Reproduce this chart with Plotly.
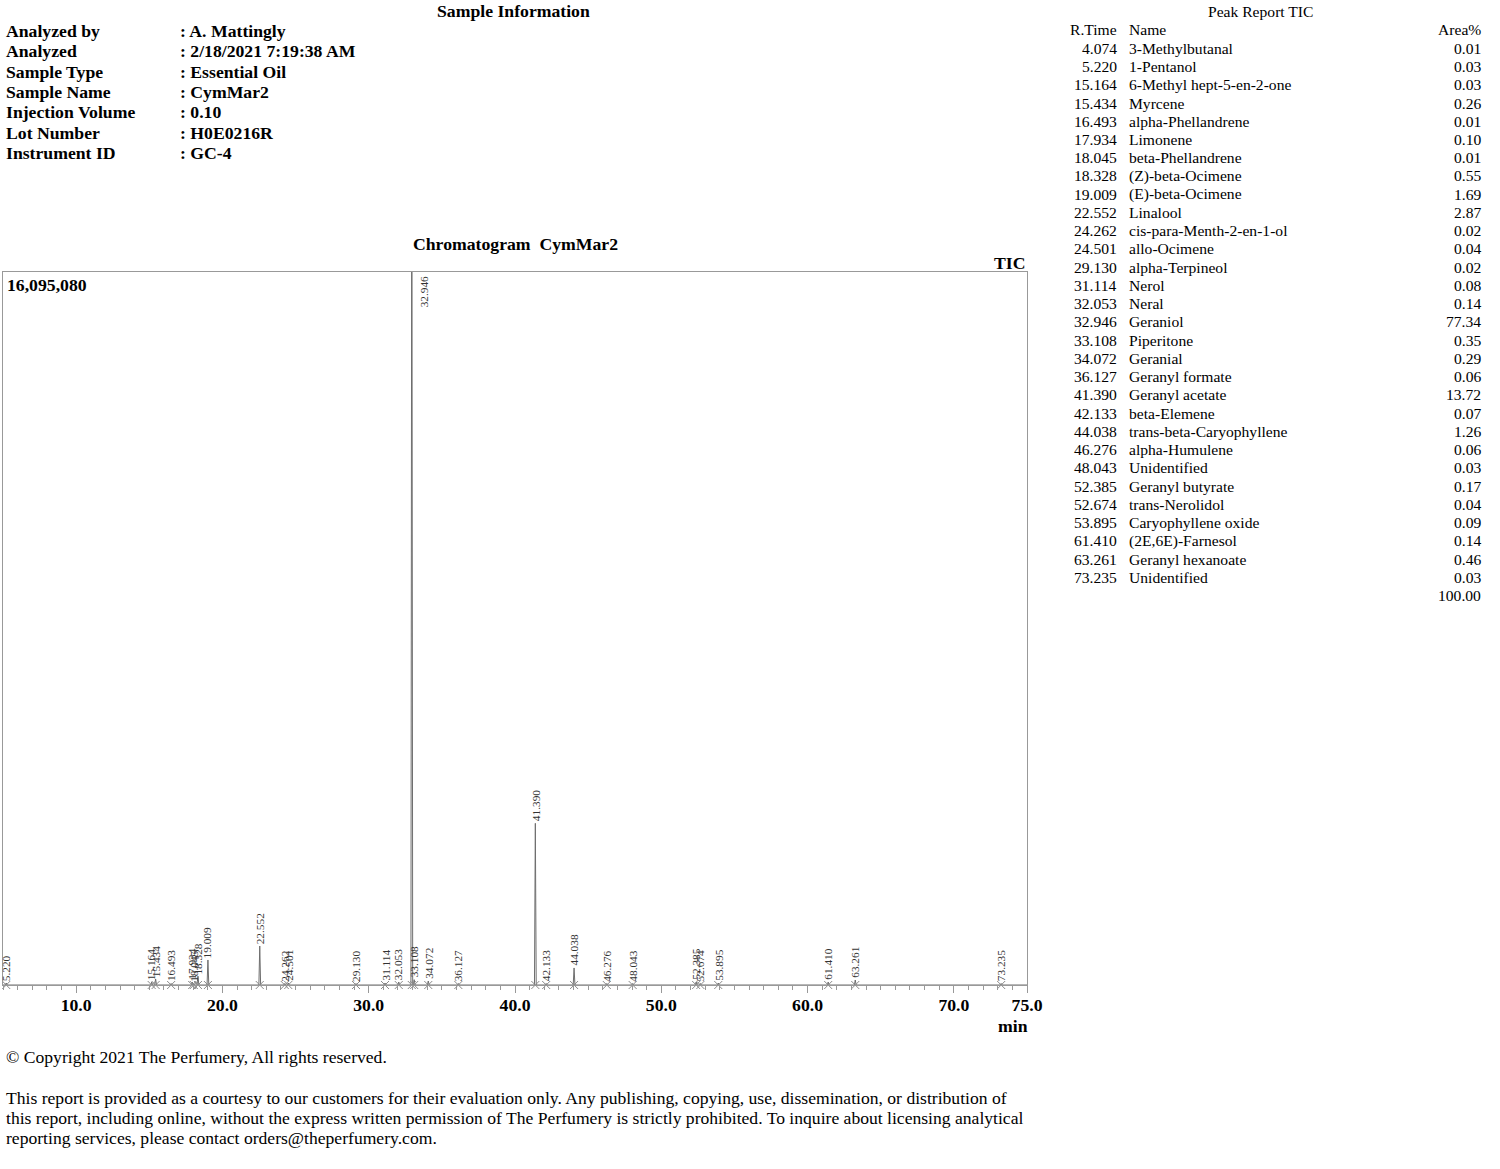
import plotly.graph_objects as go

# ---------------- data ----------------
info_labels = ["Analyzed by", "Analyzed", "Sample Type", "Sample Name",
               "Injection Volume", "Lot Number", "Instrument ID"]
info_values = ["A. Mattingly", "2/18/2021 7:19:38 AM", "Essential Oil", "CymMar2",
               "0.10", "H0E0216R", "GC-4"]

report_rt = ["4.074", "5.220", "15.164", "15.434", "16.493", "17.934", "18.045", "18.328",
             "19.009", "22.552", "24.262", "24.501", "29.130", "31.114", "32.053", "32.946",
             "33.108", "34.072", "36.127", "41.390", "42.133", "44.038", "46.276", "48.043",
             "52.385", "52.674", "53.895", "61.410", "63.261", "73.235"]
report_name = ["3-Methylbutanal", "1-Pentanol", "6-Methyl hept-5-en-2-one", "Myrcene",
               "alpha-Phellandrene", "Limonene", "beta-Phellandrene", "(Z)-beta-Ocimene",
               "(E)-beta-Ocimene", "Linalool", "cis-para-Menth-2-en-1-ol", "allo-Ocimene",
               "alpha-Terpineol", "Nerol", "Neral", "Geraniol", "Piperitone", "Geranial",
               "Geranyl formate", "Geranyl acetate", "beta-Elemene", "trans-beta-Caryophyllene",
               "alpha-Humulene", "Unidentified", "Geranyl butyrate", "trans-Nerolidol",
               "Caryophyllene oxide", "(2E,6E)-Farnesol", "Geranyl hexanoate", "Unidentified"]
report_area = ["0.01", "0.03", "0.03", "0.26", "0.01", "0.10", "0.01", "0.55", "1.69", "2.87",
               "0.02", "0.04", "0.02", "0.08", "0.14", "77.34", "0.35", "0.29", "0.06", "13.72",
               "0.07", "1.26", "0.06", "0.03", "0.17", "0.04", "0.09", "0.14", "0.46", "0.03"]
report_total = "100.00"

# peaks visible in the chromatogram window (retention time, min ; height, counts)
peak_rt = [5.220, 15.164, 15.434, 16.493, 17.934, 18.045, 18.328, 19.009, 22.552, 24.262,
           24.501, 29.130, 31.114, 32.053, 32.946, 33.108, 34.072, 36.127, 41.390, 42.133,
           44.038, 46.276, 48.043, 52.385, 52.674, 53.895, 61.410, 63.261, 73.235]
peak_height = [45000, 68000, 135000, 34000, 68000, 34000, 200000, 565000, 880000, 34000,
               45000, 34000, 45000, 68000, 20500000, 120000, 90000, 34000, 3650000, 34000,
               385000, 34000, 34000, 68000, 34000, 45000, 68000, 113000, 34000]
y_max = 16095080
x_start, x_end = 5.0, 75.0
x_tickvals = [10, 20, 30, 40, 50, 60, 70, 75]
x_ticktext = ["10.0", "20.0", "30.0", "40.0", "50.0", "60.0", "70.0", "75.0"]

# ---------------- layout helpers ----------------
W, H = 1500, 1169
PL, PR, PT, PB = 3, 1027, 272, 985
SERIF = "Liberation Serif, Times New Roman, serif"


def px(xp):
    return (xp - PL) / (PR - PL)


def py(yp):
    return (PB - yp) / (PB - PT)


# chromatogram trace built from the peak table
half_w = 0.06
xs, ys = [x_start], [0]
for t, h in zip(peak_rt, peak_height):
    xs += [t - half_w, t, t + half_w]
    ys += [0, h, 0]
xs.append(x_end)
ys.append(0)

fig = go.Figure()
fig.add_trace(go.Scatter(x=xs, y=ys, mode="lines", line=dict(color="#6e6e6e", width=1),
                         hoverinfo="skip", showlegend=False))
fig.add_trace(go.Scatter(x=peak_rt, y=[0] * len(peak_rt), mode="markers",
                         marker=dict(symbol="x-thin-open", size=8, color="#8c8c8c",
                                     line=dict(color="#8c8c8c", width=1)),
                         hoverinfo="skip", showlegend=False, cliponaxis=False))

ann = []
LF = dict(family=SERIF, size=11.3, color="#333333")
# peak labels
for t, h in zip(peak_rt, peak_height):
    if h > y_max:
        ann.append(dict(x=t, y=1, xref="x", yref="paper", text=f"{t:.3f}", textangle=-90,
                        showarrow=False, xanchor="center", yanchor="top", xshift=12, yshift=-2,
                        font=LF))
    else:
        ann.append(dict(x=t, y=h, xref="x", yref="y", text=f"{t:.3f}", textangle=-90,
                        showarrow=False, xanchor="center", yanchor="bottom", yshift=0,
                        font=LF))

BF = dict(family=SERIF, size=17.7, color="black")
# chart titles
ann.append(dict(x=px(515), y=py(244), xref="paper", yref="paper", showarrow=False,
                text="<b>Chromatogram\u00a0 CymMar2</b>", xanchor="center", yanchor="middle",
                font=BF))
ann.append(dict(x=px(1027), y=py(263), xref="paper", yref="paper", showarrow=False,
                text="<b>TIC</b>", xanchor="right", yanchor="middle", font=BF))
ann.append(dict(x=px(5), y=py(285), xref="paper", yref="paper", showarrow=False,
                text="<b>" + f"{y_max:,}" + "</b>", xanchor="left", yanchor="middle", font=BF))
ann.append(dict(x=px(1013), y=py(1026), xref="paper", yref="paper", showarrow=False,
                text="<b>min</b>", xanchor="center", yanchor="middle", font=BF))

# sample information
ann.append(dict(x=px(513), y=py(11), xref="paper", yref="paper", showarrow=False,
                text="<b>Sample Information</b>", xanchor="center", yanchor="middle", font=BF))
for i, (lab, val) in enumerate(zip(info_labels, info_values)):
    yy = py(31 + i * 20.3)
    ann.append(dict(x=px(4), y=yy, xref="paper", yref="paper", showarrow=False,
                    text=f"<b>{lab}</b>", xanchor="left", yanchor="middle", font=BF))
    ann.append(dict(x=px(178), y=yy, xref="paper", yref="paper", showarrow=False,
                    text=f"<b>: {val}</b>", xanchor="left", yanchor="middle", font=BF))

# peak report table
TF = dict(family=SERIF, size=15.6, color="black")
ann.append(dict(x=px(1260), y=py(11), xref="paper", yref="paper", showarrow=False,
                text="Peak Report TIC", xanchor="center", yanchor="middle", font=TF))
ann.append(dict(x=px(1119), y=py(29.5), xref="paper", yref="paper", showarrow=False,
                text="R.Time", xanchor="right", yanchor="middle", font=TF))
ann.append(dict(x=px(1127), y=py(29.5), xref="paper", yref="paper", showarrow=False,
                text="Name", xanchor="left", yanchor="middle", font=TF))
ann.append(dict(x=px(1483), y=py(29.5), xref="paper", yref="paper", showarrow=False,
                text="Area%", xanchor="right", yanchor="middle", font=TF))
for i, (r, n, a) in enumerate(zip(report_rt, report_name, report_area)):
    yy = py(48.3 + i * 18.24)
    ann.append(dict(x=px(1119), y=yy, xref="paper", yref="paper", showarrow=False,
                    text=r, xanchor="right", yanchor="middle", font=TF))
    ann.append(dict(x=px(1127), y=yy, xref="paper", yref="paper", showarrow=False,
                    text=n, xanchor="left", yanchor="middle", font=TF))
    ann.append(dict(x=px(1483), y=yy, xref="paper", yref="paper", showarrow=False,
                    text=a, xanchor="right", yanchor="middle", font=TF))
ann.append(dict(x=px(1483), y=py(48.3 + 30 * 18.24), xref="paper", yref="paper",
                showarrow=False, text=report_total, xanchor="right", yanchor="middle", font=TF))

# footer
FF = dict(family=SERIF, size=17.6, color="black")
footer_lines = [
    (1057, "\u00a9 Copyright 2021 The Perfumery, All rights reserved."),
    (1098, "This report is provided as a courtesy to our customers for their evaluation only. Any publishing, copying, use, dissemination, or distribution of"),
    (1118, "this report, including online, without the express written permission of The Perfumery is strictly prohibited. To inquire about licensing analytical"),
    (1138, "reporting services, please contact orders@theperfumery.com."),
]
for yp, txt in footer_lines:
    ann.append(dict(x=px(4), y=py(yp), xref="paper", yref="paper", showarrow=False,
                    text=txt, xanchor="left", yanchor="middle", font=FF))

fig.update_layout(
    width=W, height=H,
    margin=dict(l=PL, r=W - PR, t=PT, b=H - PB, pad=0),
    paper_bgcolor="white", plot_bgcolor="white",
    annotations=ann,
    showlegend=False,
    xaxis=dict(range=[x_start, x_end], tickvals=x_tickvals,
               ticktext=[f"<b>{s}</b>" for s in x_ticktext],
               ticks="outside", ticklen=7, tickcolor="#999999", tickwidth=1,
               ticklabelstandoff=-3,
               minor=dict(dtick=1, tick0=0, ticks="outside", ticklen=4, tickcolor="#999999"),
               showgrid=False, zeroline=False, showline=True, linecolor="#999999",
               linewidth=1, mirror=True,
               tickfont=dict(family=SERIF, size=17.7, color="black", weight="bold")),
    yaxis=dict(range=[0, y_max], showticklabels=False, ticks="", showgrid=False,
               zeroline=False, showline=True, linecolor="#999999", linewidth=1, mirror=True),
)

fig.write_html("out.html", config={"displayModeBar": False},
               post_script="document.body.style.margin='0px';")
